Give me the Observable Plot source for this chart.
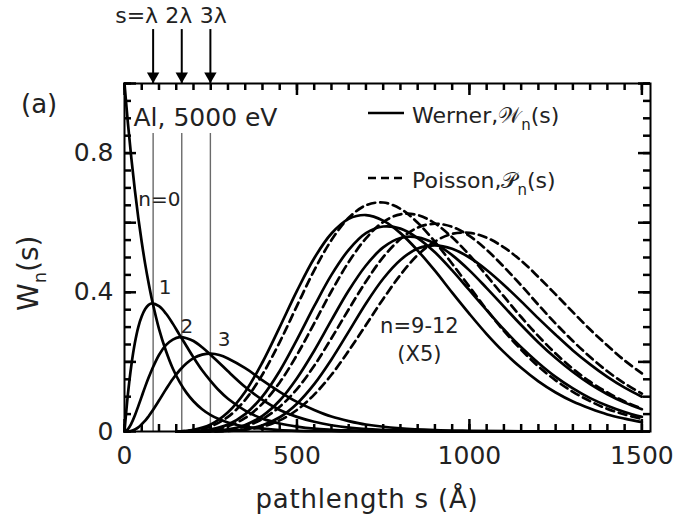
<!DOCTYPE html>
<html><head><meta charset="utf-8">
<script src="https://cdn.jsdelivr.net/npm/d3@7"></script>
<script src="https://cdn.jsdelivr.net/npm/@observablehq/plot@0.6"></script>
<style>body{margin:0;background:#fff}</style>
</head><body><div id="chart"></div>
<script>
// ---- data ----
const sLow = [0,10,20,30,40,50,60,70,80,100,120,140,160,180,200,225,250,275,300,350,400,450,500,550,600,650,700,800,900,1000,1200,1500];
const n0 = [1,0.885,0.784,0.694,0.614,0.544,0.481,0.426,0.377,0.295,0.232,0.181,0.142,0.111,0.087,0.064,0.047,0.035,0.026,0.014,0.008,0.004,0.002,0.001,0.001,0,0,0,0,0,0,0];
const n1 = [0,0.108,0.191,0.254,0.300,0.331,0.352,0.364,0.368,0.360,0.339,0.310,0.277,0.245,0.213,0.176,0.145,0.117,0.094,0.060,0.037,0.023,0.014,0.008,0.005,0.003,0.002,0.001,0,0,0,0];
const n2 = [0,0.007,0.023,0.046,0.073,0.101,0.129,0.155,0.179,0.220,0.248,0.264,0.271,0.268,0.260,0.242,0.220,0.197,0.173,0.128,0.091,0.062,0.042,0.028,0.018,0.011,0.007,0.003,0.001,0,0,0];
const n3 = [0,0.000,0.002,0.006,0.012,0.021,0.031,0.044,0.058,0.089,0.121,0.151,0.176,0.196,0.211,0.221,0.224,0.220,0.210,0.182,0.147,0.114,0.085,0.062,0.043,0.030,0.020,0.009,0.004,0.002,0,0];

const sHigh = [150,200,250,300,350,400,450,500,550,600,650,700,750,800,850,900,950,1000,1050,1100,1150,1200,1250,1300,1350,1400,1450,1500];
// Werner W_n(s), x5
const werner9  = [0,0.005,0.020,0.055,0.114,0.199,0.300,0.404,0.498,0.569,0.611,0.622,0.606,0.570,0.520,0.462,0.399,0.338,0.280,0.228,0.183,0.144,0.112,0.086,0.066,0.049,0.037,0.027];
const werner10 = [0,0.001,0.006,0.020,0.050,0.101,0.174,0.264,0.360,0.450,0.522,0.570,0.589,0.583,0.556,0.515,0.463,0.406,0.349,0.293,0.242,0.197,0.157,0.124,0.096,0.074,0.056,0.042];
const werner11 = [0,0.000,0.001,0.006,0.019,0.045,0.089,0.153,0.232,0.320,0.405,0.477,0.529,0.556,0.558,0.540,0.507,0.463,0.412,0.359,0.306,0.256,0.211,0.171,0.136,0.107,0.083,0.064];
const werner12 = [0,0.000,0.000,0.002,0.006,0.018,0.041,0.080,0.136,0.207,0.287,0.368,0.439,0.493,0.526,0.535,0.525,0.500,0.464,0.421,0.374,0.325,0.278,0.233,0.193,0.157,0.126,0.100];
// Poisson P_n(s), x5
const poisson9  = [0,0.004,0.015,0.042,0.091,0.164,0.257,0.361,0.463,0.550,0.614,0.650,0.658,0.640,0.600,0.545,0.482,0.416,0.350,0.289,0.235,0.187,0.147,0.114,0.087,0.065,0.049,0.036];
const poisson10 = [0,0.001,0.005,0.015,0.039,0.080,0.141,0.220,0.311,0.403,0.487,0.555,0.602,0.624,0.622,0.598,0.558,0.507,0.448,0.388,0.329,0.274,0.224,0.180,0.143,0.112,0.086,0.066];
const poisson11 = [0,0.000,0.001,0.005,0.015,0.036,0.071,0.122,0.189,0.268,0.351,0.431,0.501,0.553,0.586,0.597,0.588,0.562,0.522,0.473,0.420,0.364,0.310,0.260,0.214,0.173,0.138,0.109];
const poisson12 = [0,0.000,0.000,0.002,0.005,0.014,0.032,0.062,0.106,0.163,0.232,0.306,0.381,0.450,0.507,0.546,0.568,0.571,0.557,0.529,0.491,0.444,0.394,0.343,0.293,0.247,0.204,0.167];

const lambdaLines = [83,166,249];
const arrowLabels = ["s=λ","2λ","3λ"];
const xMajor = [0,500,1000,1500];
const xMinor = [0,50,100,150,200,250,300,350,400,450,500,550,600,650,700,750,800,850,900,950,1000,1050,1100,1150,1200,1250,1300,1350,1400,1450,1500];
const yLabels = [0,0.4,0.8];
const yMajor = [0,0.2,0.4,0.6,0.8,1];
const yMinor = [0,0.05,0.1,0.15,0.2,0.25,0.3,0.35,0.4,0.45,0.5,0.55,0.6,0.65,0.7,0.75,0.8,0.85,0.9,0.95,1];

// ---- tables ----
const toRows = (xs, ys, id) => xs.map((s,i) => ({s, v: ys[i], id}));
const lowRows = [].concat(toRows(sLow,n0,"n0"), toRows(sLow,n1,"n1"), toRows(sLow,n2,"n2"), toRows(sLow,n3,"n3"));
const wRows = [].concat(toRows(sHigh,werner9,"w9"), toRows(sHigh,werner10,"w10"), toRows(sHigh,werner11,"w11"), toRows(sHigh,werner12,"w12"));
const pRows = [].concat(toRows(sHigh,poisson9,"p9"), toRows(sHigh,poisson10,"p10"), toRows(sHigh,poisson11,"p11"), toRows(sHigh,poisson12,"p12"));

const F = "DejaVu Sans";
const ink = "#000";
const lw = 2.7;

// geometry
const W = 676, H = 522, mL = 124, mR = 26, mT = 83, mB = 91;
const xDom = [0, 1525], yDom = [0, 1];
const perPxX = (xDom[1] - xDom[0]) / (W - mL - mR);
const perPxY = (yDom[1] - yDom[0]) / (H - mT - mB);
const tickW = 2.5;
const ticks = (minLen, majLen) => [
  // bottom & top
  Plot.ruleX(xMinor, {x: d => d, y1: yDom[0], y2: yDom[0] + minLen * perPxY, stroke: ink, strokeWidth: tickW}),
  Plot.ruleX(xMajor, {x: d => d, y1: yDom[0], y2: yDom[0] + majLen * perPxY, stroke: ink, strokeWidth: tickW}),
  Plot.ruleX(xMinor, {x: d => d, y1: yDom[1] - minLen * perPxY, y2: yDom[1], stroke: ink, strokeWidth: tickW}),
  Plot.ruleX(xMajor, {x: d => d, y1: yDom[1] - majLen * perPxY, y2: yDom[1], stroke: ink, strokeWidth: tickW}),
  // left & right
  Plot.ruleY(yMinor, {y: d => d, x1: xDom[0], x2: xDom[0] + minLen * perPxX, stroke: ink, strokeWidth: tickW}),
  Plot.ruleY(yMajor, {y: d => d, x1: xDom[0], x2: xDom[0] + majLen * perPxX, stroke: ink, strokeWidth: tickW}),
  Plot.ruleY(yMinor, {y: d => d, x1: xDom[1] - minLen * perPxX, x2: xDom[1], stroke: ink, strokeWidth: tickW}),
  Plot.ruleY(yMajor, {y: d => d, x1: xDom[1] - majLen * perPxX, x2: xDom[1], stroke: ink, strokeWidth: tickW})
];

const plot = Plot.plot({
  width: W, height: H,
  marginLeft: mL, marginRight: mR, marginTop: mT, marginBottom: mB,
  x: {domain: xDom, axis: null},
  y: {domain: yDom, axis: null},
  style: {fontFamily: F, background: "white", color: ink, overflow: "visible"},
  marks: [
    Plot.ruleX(lambdaLines, {x: d => d, y1: 0, y2: 0.856, stroke: "#6a6a6a", strokeWidth: 1.4}),
    Plot.line(lowRows, {x: "s", y: "v", z: "id", stroke: ink, strokeWidth: lw, curve: "catmull-rom"}),
    Plot.line(pRows, {x: "s", y: "v", z: "id", stroke: ink, strokeWidth: lw, strokeDasharray: "8,5", curve: "catmull-rom"}),
    Plot.line(wRows, {x: "s", y: "v", z: "id", stroke: ink, strokeWidth: lw, curve: "catmull-rom"}),
    Plot.frame({stroke: ink, strokeWidth: 2}),
    ...ticks(7, 12),
    // tick labels
    Plot.axisX({anchor: "bottom", ticks: xMajor, tickSize: 0, tickPadding: 15, tickFormat: d => String(d), label: null, fontSize: 25, fill: "#222"}),
    Plot.axisY({anchor: "left", ticks: yLabels, tickSize: 0, tickPadding: 11, tickFormat: d => String(d), label: null, fontSize: 25, fill: "#222"}),
    // arrows above the frame
    Plot.ruleX(lambdaLines, {x: d => d, y1: 1.0, y2: 1.155, stroke: ink, strokeWidth: 2}),
    Plot.dot(lambdaLines, {x: d => d, y: 1.021, symbol: "triangle", rotate: 180, r: 4.6, fill: ink, stroke: null}),
    Plot.text([arrowLabels[0]], {x: lambdaLines[0], y: 1.175, text: d => d, textAnchor: "end", lineAnchor: "bottom", dx: 5, fontSize: 22, fill: "#222"}),
    Plot.text([arrowLabels[1]], {x: lambdaLines[1], y: 1.175, text: d => d, textAnchor: "middle", lineAnchor: "bottom", dx: -3, fontSize: 22, fill: "#222"}),
    Plot.text([arrowLabels[2]], {x: lambdaLines[2], y: 1.175, text: d => d, textAnchor: "middle", lineAnchor: "bottom", dx: 3, fontSize: 22, fill: "#222"}),
    // annotations
    Plot.text(["Al, 5000 eV"], {x: 26, y: 0.879, text: d => d, textAnchor: "start", lineAnchor: "bottom", fontSize: 25, fill: "#222"}),
    Plot.text(["n=0"], {x: 40, y: 0.649, text: d => d, textAnchor: "start", lineAnchor: "bottom", fontSize: 20, fill: "#222"}),
    Plot.text(["1"], {x: 99, y: 0.394, text: d => d, textAnchor: "start", lineAnchor: "bottom", fontSize: 20, fill: "#222"}),
    Plot.text(["2"], {x: 162, y: 0.284, text: d => d, textAnchor: "start", lineAnchor: "bottom", fontSize: 20, fill: "#222"}),
    Plot.text(["3"], {x: 270, y: 0.247, text: d => d, textAnchor: "start", lineAnchor: "bottom", fontSize: 20, fill: "#222"}),
    Plot.text(["n=9-12"], {x: 855, y: 0.282, text: d => d, textAnchor: "middle", lineAnchor: "bottom", fontSize: 21, fill: "#222"}),
    Plot.text(["(X5)"], {x: 855, y: 0.202, text: d => d, textAnchor: "middle", lineAnchor: "bottom", fontSize: 21, fill: "#222"})
  ]
});

document.getElementById("chart").appendChild(plot);

// ---- labels with subscripts, legend ----
const svg = d3.select(plot);
const g = svg.append("g").attr("font-family", F).attr("fill", "#222").attr("text-anchor", "start");
g.append("text").attr("x", 21).attr("y", 113).attr("font-size", 26).text("(a)");

// y-axis label W_n(s)
const yl = g.append("text").attr("transform", "translate(38,311) rotate(-90)").attr("font-size", 28);
yl.append("tspan").text("W");
yl.append("tspan").attr("font-size", 18).attr("dy", 8).text("n");
yl.append("tspan").attr("dy", -8).text("(s)");

// x-axis label
g.append("text").attr("x", 367).attr("y", 508).attr("text-anchor", "middle").attr("font-size", 26).attr("letter-spacing", 0.8).text("pathlength s (Å)");

// legend
g.append("line").attr("x1", 368).attr("x2", 404).attr("y1", 113).attr("y2", 113).attr("stroke", ink).attr("stroke-width", lw);
const t1 = g.append("text").attr("x", 412).attr("y", 123).attr("font-size", 22);
t1.append("tspan").text("Werner,");
t1.append("tspan").text("𝒲");
t1.append("tspan").attr("font-size", 15).attr("dy", 7).text("n");
t1.append("tspan").attr("dy", -7).text("(s)");

g.append("line").attr("x1", 368).attr("x2", 404).attr("y1", 178).attr("y2", 178).attr("stroke", ink).attr("stroke-width", lw).attr("stroke-dasharray", "8,5");
const t2 = g.append("text").attr("x", 412).attr("y", 188).attr("font-size", 22);
t2.append("tspan").text("Poisson,");
t2.append("tspan").text("𝒫");
t2.append("tspan").attr("font-size", 15).attr("dy", 7).text("n");
t2.append("tspan").attr("dy", -7).text("(s)");
</script>
</body></html>
